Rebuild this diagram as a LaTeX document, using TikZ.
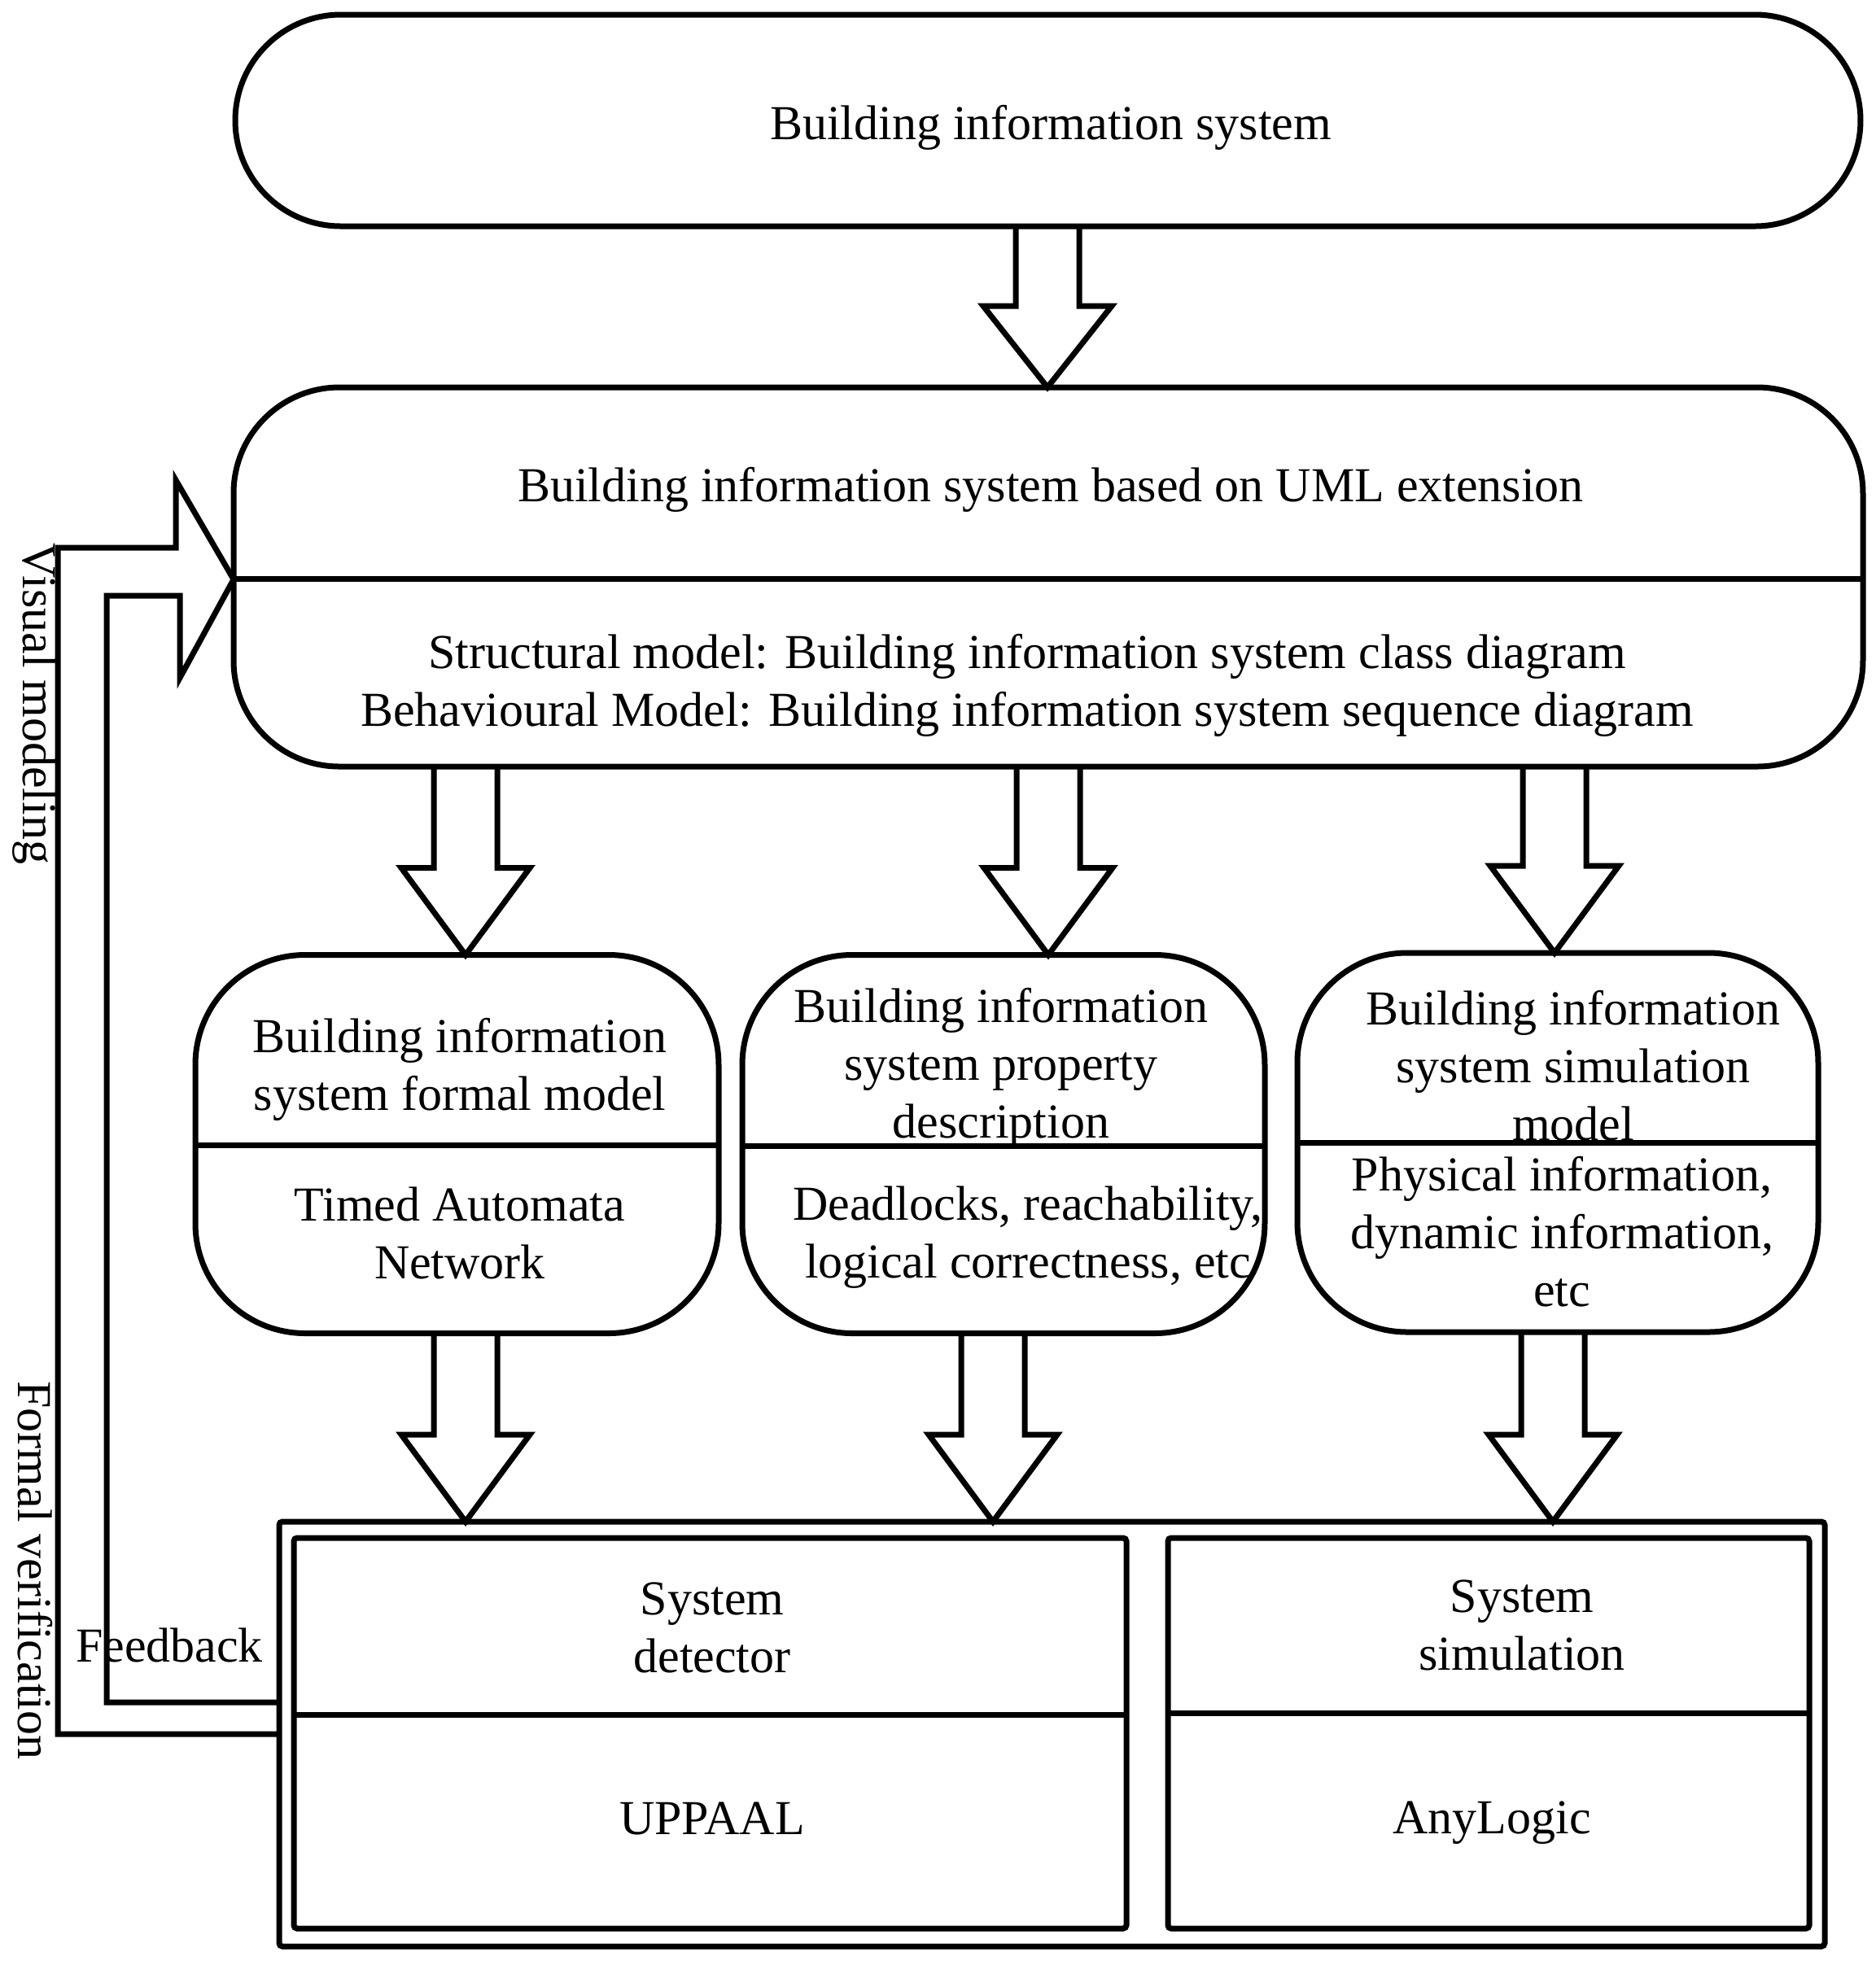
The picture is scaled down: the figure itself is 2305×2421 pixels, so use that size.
\documentclass[tikz,border=0pt]{standalone}
\usepackage{fontspec}
\setmainfont{Liberation Serif}
\usetikzlibrary{calc}
\newcommand{\blockarr}[4]{%
  \draw[ln] (#1-39,0 |- #2.south) -- ($(#1-39,0 |- #3.north)+(0,-#4)$)
    -- ($(#1-79,0 |- #3.north)+(0,-#4)$) -- (#1,0 |- #3.north)
    -- ($(#1+79,0 |- #3.north)+(0,-#4)$) -- ($(#1+39,0 |- #3.north)+(0,-#4)$)
    -- (#1+39,0 |- #2.south);}
\begin{document}
\begin{tikzpicture}[x=0.1mm,y=-0.1mm,
  ln/.style={line width=0.7mm, line join=miter},
  box/.style={draw, ln, rounded corners=13mm, inner sep=0pt, outer sep=0pt},
  sqbox/.style={draw, ln, rounded corners=0.4mm, inner sep=0pt, outer sep=0pt},
  txt/.style={align=center, inner sep=0pt, font=\fontsize{17.07pt}{20.2pt}\selectfont}]
\useasboundingbox (0,0) rectangle (2305,2421);

% top box
\node[box, minimum width=199.7mm, minimum height=26mm] (bis) at (1287.5,148) {};
\node[txt] (bist) at (1291,157) {Building information system};

% UML box
\node[box, minimum width=200.2mm, minimum height=46.6mm] (uml) at (1288,709) {};
\draw[ln] (uml.west |- 0,711) -- (uml.east |- 0,711);
\node[txt] (umlt) at (1291,602) {Building information system based on UML extension};
\node[txt] (umlb) at (1262,842) {Structural model: Building information system class diagram\\Behavioural Model: Building information system sequence diagram};

% middle boxes
\node[box, rounded corners=13.5mm, minimum width=64.3mm, minimum height=46.5mm] (fm) at (561.5,1406) {};
\draw[ln] (fm.west |- 0,1407) -- (fm.east |- 0,1407);
\node[txt] (fmt) at (565,1314) {Building information\\system formal model};
\node[txt] (fmb) at (565,1515) {Timed Automata\\Network};

\node[box, rounded corners=13.5mm, minimum width=64.2mm, minimum height=46.5mm] (pd) at (1233,1406) {};
\draw[ln] (pd.west |- 0,1408) -- (pd.east |- 0,1408);
\node[txt] (pdt) at (1230,1313) {Building information\\system property\\description};
\node[txt] (pdb) at (1263,1521) {Deadlocks, reachability,\\logical correctness, etc};

\node[box, rounded corners=13.5mm, minimum width=64.0mm, minimum height=46.6mm] (sm) at (1914,1404) {};
\draw[ln] (sm.west |- 0,1404) -- (sm.east |- 0,1404);
\node[txt] (smt) at (1933,1310) {Building information\\system simulation\\model};
\node[txt] (smb) at (1919,1514) {Physical information,\\dynamic information,\\etc};

% bottom container
\node[sqbox, minimum width=189.9mm, minimum height=52.2mm] (tools) at (1292.5,2131) {};
\node[sqbox, minimum width=102.3mm, minimum height=48mm] (det) at (872.5,2130) {};
\draw[ln] (det.west |- 0,2107) -- (det.east |- 0,2107);
\node[txt] (dett) at (875,2000) {System\\detector};
\node[txt] (detb) at (875,2235) {UPPAAL};
\node[sqbox, minimum width=78.8mm, minimum height=48mm] (sim) at (1829,2130) {};
\draw[ln] (sim.west |- 0,2105) -- (sim.east |- 0,2105);
\node[txt] (simt) at (1870,1997) {System\\simulation};
\node[txt] (simb) at (1833,2240) {AnyLogic};

% block arrows
\blockarr{1287}{bis}{uml}{100}
\blockarr{572}{uml}{fm}{107}
\blockarr{1288}{uml}{pd}{107}
\blockarr{1910}{uml}{sm}{107}
\blockarr{572}{fm}{tools}{107}
\blockarr{1220}{pd}{tools}{107}
\blockarr{1908}{sm}{tools}{107}

% feedback arrow
\draw[ln] (tools.west |- 0,2131) -- (71,2131) -- (71,673) -- (216,673) -- (216,590)
  -- (uml.west |- 0,712) -- (221,833) -- (221,732) -- (131,732) -- (131,2092)
  -- (tools.west |- 0,2092);
\node[txt, rotate=-90] (vm) at (43,865) {Visual modeling};
\node[txt, rotate=-90] (fv) at (43,1930) {Formal verification};
\node[txt] (fb) at (208,2022) {Feedback};
\end{tikzpicture}
\end{document}
